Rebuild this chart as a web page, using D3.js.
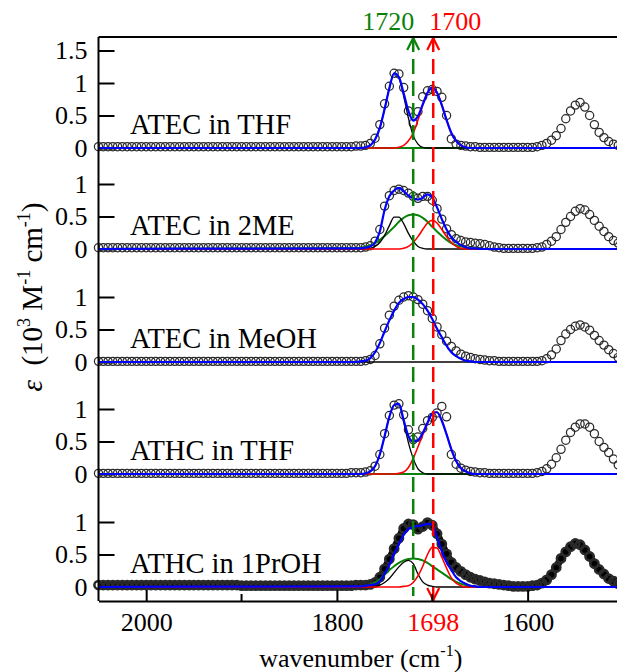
<!DOCTYPE html>
<html>
<head>
<meta charset="utf-8">
<title>IR spectra</title>
<script src="https://cdn.jsdelivr.net/npm/d3@7/dist/d3.min.js"></script>
<style>
  body { margin: 0; background: #ffffff; }
  #chart { display: block; }
  #chart text { font-family: "Liberation Serif", "DejaVu Serif", "Times New Roman", Times, serif; }
</style>
</head>
<body>
<svg id="chart" width="617" height="672"></svg>
<script>
//sample positions of the measured spectra in cm-1, every 5 cm-1 from high to low
var specWn = d3.range(2050, 1500, -5);

//measured epsilon (10^3 M-1 cm-1) for each panel, same order as specWn
var specAtecThf = [
  0.02, 0.02, 0.02, 0.02, 0.02, 0.02, 0.02, 0.02, 0.02, 0.02,
  0.02, 0.02, 0.02, 0.02, 0.02, 0.02, 0.02, 0.02, 0.02, 0.02,
  0.02, 0.02, 0.02, 0.02, 0.02, 0.02, 0.02, 0.02, 0.02, 0.02,
  0.02, 0.02, 0.02, 0.02, 0.02, 0.02, 0.02, 0.02, 0.02, 0.02,
  0.02, 0.02, 0.02, 0.02, 0.02, 0.02, 0.02, 0.02, 0.02, 0.02,
  0.02, 0.02, 0.02, 0.02, 0.03, 0.03, 0.04, 0.07, 0.15, 0.36,
  0.68, 0.95, 1.15, 1.14, 0.93, 0.57, 0.38, 0.56, 0.79, 0.88,
  0.90, 0.87, 0.78, 0.50, 0.14, 0.06, 0.04, 0.03, 0.02, 0.02,
  0.01, 0.01, 0.01, 0.01, 0.01, 0.01, 0.01, 0.01, 0.01, 0.01,
  0.01, 0.01, 0.02, 0.04, 0.07, 0.12, 0.19, 0.30, 0.45, 0.57,
  0.66, 0.70, 0.63, 0.50, 0.36, 0.24, 0.16, 0.10, 0.06, 0.04
];
var specAtec2me = [
  0.02, 0.02, 0.02, 0.02, 0.02, 0.02, 0.02, 0.02, 0.02, 0.02,
  0.02, 0.02, 0.02, 0.02, 0.02, 0.02, 0.02, 0.02, 0.02, 0.02,
  0.02, 0.02, 0.02, 0.02, 0.02, 0.02, 0.02, 0.02, 0.02, 0.02,
  0.02, 0.02, 0.02, 0.02, 0.02, 0.02, 0.02, 0.02, 0.02, 0.02,
  0.02, 0.02, 0.02, 0.02, 0.02, 0.02, 0.02, 0.02, 0.02, 0.02,
  0.02, 0.02, 0.02, 0.02, 0.02, 0.02, 0.03, 0.05, 0.12, 0.30,
  0.66, 0.82, 0.90, 0.92, 0.90, 0.86, 0.81, 0.78, 0.81, 0.81,
  0.75, 0.62, 0.46, 0.31, 0.22, 0.16, 0.13, 0.11, 0.10, 0.09,
  0.08, 0.07, 0.05, 0.03, 0.02, 0.01, 0.01, 0.01, 0.01, 0.01,
  0.01, 0.01, 0.02, 0.03, 0.07, 0.12, 0.19, 0.30, 0.41, 0.50,
  0.58, 0.62, 0.60, 0.53, 0.44, 0.35, 0.27, 0.19, 0.13, 0.09
];
var specAtecMeoh = [
  0.01, 0.01, 0.01, 0.01, 0.01, 0.01, 0.01, 0.01, 0.01, 0.01,
  0.01, 0.01, 0.01, 0.01, 0.01, 0.01, 0.01, 0.01, 0.01, 0.01,
  0.01, 0.01, 0.01, 0.01, 0.01, 0.01, 0.01, 0.01, 0.01, 0.01,
  0.01, 0.01, 0.01, 0.01, 0.01, 0.01, 0.01, 0.01, 0.01, 0.01,
  0.01, 0.01, 0.01, 0.01, 0.01, 0.01, 0.01, 0.01, 0.01, 0.01,
  0.01, 0.01, 0.01, 0.01, 0.01, 0.01, 0.02, 0.04, 0.10, 0.28,
  0.52, 0.72, 0.86, 0.95, 1.00, 1.02, 1.00, 0.96, 0.89, 0.79,
  0.67, 0.54, 0.42, 0.32, 0.24, 0.17, 0.12, 0.09, 0.07, 0.05,
  0.04, 0.03, 0.02, 0.02, 0.01, 0.01, 0.01, 0.01, 0.01, 0.01,
  0.01, 0.01, 0.01, 0.02, 0.05, 0.11, 0.20, 0.33, 0.43, 0.50,
  0.55, 0.57, 0.54, 0.49, 0.41, 0.33, 0.26, 0.19, 0.13, 0.07
];
var specAthcThf = [
  0.01, 0.01, 0.01, 0.01, 0.01, 0.01, 0.01, 0.01, 0.01, 0.01,
  0.01, 0.01, 0.01, 0.01, 0.01, 0.01, 0.01, 0.01, 0.01, 0.01,
  0.01, 0.01, 0.01, 0.01, 0.01, 0.01, 0.01, 0.01, 0.01, 0.01,
  0.01, 0.01, 0.01, 0.01, 0.01, 0.01, 0.01, 0.01, 0.01, 0.01,
  0.01, 0.01, 0.01, 0.01, 0.01, 0.01, 0.01, 0.01, 0.01, 0.01,
  0.01, 0.01, 0.01, 0.02, 0.02, 0.02, 0.03, 0.05, 0.12, 0.30,
  0.62, 0.90, 1.06, 1.08, 0.91, 0.68, 0.53, 0.57, 0.70, 0.82,
  0.87, 0.94, 1.04, 0.88, 0.30, 0.15, 0.09, 0.06, 0.04, 0.03,
  0.02, 0.02, 0.01, 0.01, 0.01, 0.01, 0.01, 0.01, 0.01, 0.01,
  0.01, 0.01, 0.02, 0.04, 0.08, 0.15, 0.25, 0.38, 0.52, 0.64,
  0.72, 0.77, 0.77, 0.72, 0.62, 0.50, 0.41, 0.33, 0.23, 0.14
];
var specAthc1proh = [
  0.03, 0.03, 0.03, 0.03, 0.03, 0.03, 0.03, 0.03, 0.03, 0.03,
  0.03, 0.03, 0.03, 0.03, 0.03, 0.03, 0.03, 0.03, 0.03, 0.03,
  0.03, 0.03, 0.03, 0.03, 0.03, 0.03, 0.03, 0.03, 0.03, 0.03,
  0.02, 0.02, 0.02, 0.02, 0.02, 0.02, 0.02, 0.02, 0.02, 0.02,
  0.02, 0.02, 0.02, 0.02, 0.02, 0.02, 0.02, 0.02, 0.02, 0.02,
  0.02, 0.02, 0.02, 0.02, 0.03, 0.03, 0.03, 0.04, 0.07, 0.15,
  0.28, 0.43, 0.59, 0.75, 0.90, 0.97, 0.96, 0.89, 0.93, 0.99,
  0.95, 0.82, 0.66, 0.51, 0.38, 0.30, 0.24, 0.19, 0.15, 0.12,
  0.10, 0.08, 0.06, 0.05, 0.04, 0.03, 0.02, 0.01, 0.01, 0.01,
  0.01, 0.02, 0.03, 0.06, 0.11, 0.19, 0.30, 0.44, 0.54, 0.62,
  0.67, 0.65, 0.57, 0.47, 0.36, 0.27, 0.20, 0.13, 0.09, 0.05
];

//positions of the fit curves: far left end, 1780 to 1630 every 5, far right end
var fitWn = [2050].concat(d3.range(1780, 1625, -5), [1505]);

//fit components per panel (same order as fitWn)
var blackAtecThf = [0,
  0, 0, 0.01, 0.04, 0.13, 0.31, 0.60, 0.92, 1.15, 1.08,
  0.80, 0.46, 0.19, 0.06, 0.01, 0, 0, 0, 0, 0,
  0, 0, 0, 0, 0, 0, 0, 0, 0, 0,
  0, 0];
var redAtecThf = [0,
  0, 0, 0, 0, 0, 0, 0, 0, 0, 0.01,
  0.04, 0.11, 0.23, 0.43, 0.66, 0.85, 0.93, 0.85, 0.66, 0.43,
  0.23, 0.11, 0.04, 0.01, 0, 0, 0, 0, 0, 0,
  0, 0];
var greenAtecThf = [0,
  0, 0, 0, 0, 0, 0, 0, 0, 0, 0,
  0, 0, 0, 0, 0, 0, 0, 0, 0, 0,
  0, 0, 0, 0, 0, 0, 0, 0, 0, 0,
  0, 0];
var blueAtecThf = [0,
  0, 0, 0.01, 0.04, 0.13, 0.31, 0.60, 0.92, 1.15, 1.09,
  0.84, 0.57, 0.42, 0.49, 0.67, 0.85, 0.93, 0.85, 0.66, 0.43,
  0.23, 0.11, 0.04, 0.01, 0, 0, 0, 0, 0, 0,
  0, 0];

var blackAtec2me = [0,
  0, 0, 0, 0.01, 0.04, 0.10, 0.21, 0.36, 0.49, 0.49,
  0.39, 0.24, 0.12, 0.04, 0.01, 0, 0, 0, 0, 0,
  0, 0, 0, 0, 0, 0, 0, 0, 0, 0,
  0, 0];
var greenAtec2me = [0,
  0.01, 0.02, 0.04, 0.06, 0.09, 0.14, 0.20, 0.27, 0.34, 0.42,
  0.48, 0.52, 0.53, 0.52, 0.48, 0.42, 0.34, 0.27, 0.20, 0.14,
  0.09, 0.06, 0.04, 0.02, 0.01, 0.01, 0, 0, 0, 0,
  0, 0];
var redAtec2me = [0,
  0, 0, 0, 0, 0, 0, 0, 0, 0, 0,
  0.01, 0.04, 0.10, 0.19, 0.30, 0.40, 0.44, 0.40, 0.30, 0.19,
  0.10, 0.04, 0.01, 0, 0, 0, 0, 0, 0, 0,
  0, 0];
var blueAtec2me = [0,
  0.01, 0.01, 0.02, 0.04, 0.10, 0.27, 0.60, 0.81, 0.90, 0.94,
  0.89, 0.82, 0.78, 0.76, 0.79, 0.84, 0.79, 0.64, 0.46, 0.30,
  0.18, 0.11, 0.06, 0.03, 0.01, 0.01, 0, 0, 0, 0,
  0, 0];

var blackAtecMeoh = [0,
  0, 0, 0, 0, 0, 0, 0, 0, 0, 0,
  0, 0, 0, 0, 0, 0, 0, 0, 0, 0,
  0, 0, 0, 0, 0, 0, 0, 0, 0, 0,
  0, 0];
var blueAtecMeoh = [0,
  0, 0.01, 0.02, 0.06, 0.15, 0.29, 0.47, 0.64, 0.79, 0.91,
  0.97, 1.00, 1.00, 0.96, 0.89, 0.79, 0.66, 0.51, 0.38, 0.25,
  0.15, 0.09, 0.05, 0.02, 0.01, 0, 0, 0, 0, 0,
  0, 0];

var blackAthcThf = [0,
  0, 0, 0.01, 0.04, 0.12, 0.30, 0.58, 0.88, 1.06, 1.07,
  0.80, 0.48, 0.24, 0.08, 0.02, 0, 0, 0, 0, 0,
  0, 0, 0, 0, 0, 0, 0, 0, 0, 0,
  0, 0];
var redAthcThf = [0,
  0, 0, 0, 0, 0, 0, 0, 0, 0, 0.01,
  0.03, 0.10, 0.24, 0.42, 0.60, 0.78, 0.93, 0.95, 0.82, 0.61,
  0.38, 0.20, 0.09, 0.04, 0.01, 0, 0, 0, 0, 0,
  0, 0];
var greenAthcThf = [0,
  0, 0, 0, 0, 0, 0, 0, 0, 0, 0,
  0, 0, 0, 0, 0, 0, 0, 0, 0, 0,
  0, 0, 0, 0, 0, 0, 0, 0, 0, 0,
  0, 0];
var blueAthcThf = [0,
  0, 0, 0.01, 0.04, 0.12, 0.30, 0.58, 0.88, 1.06, 1.08,
  0.83, 0.58, 0.50, 0.52, 0.63, 0.79, 0.93, 0.95, 0.82, 0.61,
  0.38, 0.20, 0.09, 0.04, 0.01, 0, 0, 0, 0, 0,
  0, 0];

var blackAthc1proh = [0,
  0, 0, 0, 0, 0.01, 0.03, 0.07, 0.13, 0.22, 0.31,
  0.38, 0.41, 0.36, 0.20, 0.08, 0.03, 0.01, 0, 0, 0,
  0, 0, 0, 0, 0, 0, 0, 0, 0, 0,
  0, 0];
var greenAthc1proh = [0,
  0, 0.01, 0.02, 0.04, 0.07, 0.12, 0.19, 0.26, 0.32, 0.37,
  0.41, 0.43, 0.44, 0.43, 0.41, 0.37, 0.32, 0.27, 0.22, 0.17,
  0.12, 0.08, 0.05, 0.03, 0.02, 0.01, 0, 0, 0, 0,
  0, 0];
var redAthc1proh = [0,
  0, 0, 0, 0, 0, 0, 0, 0, 0, 0,
  0.01, 0.02, 0.07, 0.17, 0.32, 0.50, 0.61, 0.60, 0.46, 0.29,
  0.14, 0.06, 0.02, 0, 0, 0, 0, 0, 0, 0,
  0, 0];
var blueAthc1proh = [0,
  0.01, 0.01, 0.02, 0.03, 0.04, 0.09, 0.20, 0.34, 0.51, 0.66,
  0.80, 0.89, 0.92, 0.94, 0.95, 0.97, 0.96, 0.76, 0.55, 0.38,
  0.26, 0.15, 0.09, 0.05, 0.02, 0.01, 0, 0, 0, 0,
  0, 0];

//panel names and y tick values
var panelNames = ["ATEC in THF", "ATEC in 2ME", "ATEC in MeOH", "ATHC in THF", "ATHC in 1PrOH"];
var yTicksTop = [0, 0.5, 1, 1.5];
var yTicksRest = [0, 0.5, 1];

//x axis ticks
var xMajorTicks = [2000, 1800, 1600];
var xMinorTicks = [1900, 1700];

//marker lines for the two carbonyl bands
var markerGreen = 1720;
var markerRed = 1699;
var markerGreenLabel = "1720";
var markerRedTopLabel = "1700";
var markerRedBottomLabel = "1698";

//table the drawing loop walks through
var panels = [
  {name: panelNames[0], spec: specAtecThf, green: greenAtecThf, black: blackAtecThf, red: redAtecThf, blue: blueAtecThf, ticks: yTicksTop},
  {name: panelNames[1], spec: specAtec2me, green: greenAtec2me, black: blackAtec2me, red: redAtec2me, blue: blueAtec2me, ticks: yTicksRest},
  {name: panelNames[2], spec: specAtecMeoh, green: null, black: blackAtecMeoh, red: null, blue: blueAtecMeoh, ticks: yTicksRest},
  {name: panelNames[3], spec: specAthcThf, green: greenAthcThf, black: blackAthcThf, red: redAthcThf, blue: blueAthcThf, ticks: yTicksRest},
  {name: panelNames[4], spec: specAthc1proh, green: greenAthc1proh, black: blackAthc1proh, red: redAthc1proh, blue: blueAthc1proh, ticks: yTicksRest, heavy: true}
];

//layout
var plotLeft = 98.5;
var plotTop = 37;
var plotBottom = 601;
var plotRight = 623;
var panelZero = [148, 249, 362, 474, 587];
var unitPx = 65;
var fontSize = 26;
var serif = "'Liberation Serif', 'DejaVu Serif', 'Times New Roman', Times, serif";

var colors = {green: "#0a820a", black: "#000000", red: "#ff0000", blue: "#0000ff"};
var widths = {green: 2, black: 1.3, red: 1.6, blue: 2.2};

var svg = d3.select("#chart").attr("font-family", serif);

var x = d3.scaleLinear()
  .domain([2050, 1500])
  .range([plotLeft, plotRight]);

//draw each stacked panel
panels.forEach(function (p, i) {
  var y = d3.scaleLinear()
    .domain([0, 1])
    .range([panelZero[i], panelZero[i] - unitPx]);

  var g = svg.append("g").attr("class", "panel");

  //y ticks pointing into the plot
  var yAxis = g.append("g")
    .attr("transform", "translate(" + plotLeft + ",0)")
    .call(d3.axisLeft(y)
      .tickValues(p.ticks)
      .tickSizeInner(-16)
      .tickSizeOuter(0)
      .tickPadding(11)
      .tickFormat(function (d) { return String(d); }));
  yAxis.select(".domain").remove();
  yAxis.attr("font-family", serif).attr("font-size", fontSize);
  yAxis.selectAll(".tick line").attr("stroke", "#000").attr("stroke-width", 2);
  yAxis.selectAll(".tick text").attr("fill", "#000");

  //panel label
  g.append("text")
    .attr("x", 130)
    .attr("y", panelZero[i] - 14)
    .attr("font-size", 28.5)
    .text(p.name);

  var points = specWn.map(function (w, k) { return [w, p.spec[k]]; });

  //the last panel was measured much more densely, so it shows as a heavy band
  if (p.heavy) {
    g.append("path")
      .datum(points)
      .attr("fill", "none")
      .attr("stroke", "#000")
      .attr("stroke-width", 7)
      .attr("stroke-linejoin", "round")
      .attr("d", d3.line()
        .x(function (d) { return x(d[0]); })
        .y(function (d) { return y(d[1]); })
        .curve(d3.curveMonotoneX));
  }

  //measured points as open circles
  g.selectAll("circle.pt")
    .data(points)
    .join("circle")
    .attr("class", "pt")
    .attr("cx", function (d) { return x(d[0]); })
    .attr("cy", function (d) { return y(d[1]); })
    .attr("r", 4.1)
    .attr("fill", "none")
    .attr("stroke", "#2a2a2a")
    .attr("stroke-width", p.heavy ? 2.6 : 1.25);

  //fit lines, blue total on top
  var fitLine = d3.line()
    .x(function (d) { return x(d[0]); })
    .y(function (d) { return y(d[1]); })
    .curve(d3.curveMonotoneX);

  ["green", "black", "red", "blue"].forEach(function (key) {
    if (!p[key]) {
      return;
    }
    var fitPoints = fitWn.map(function (w, k) { return [w, p[key][k]]; });
    g.append("path")
      .datum(fitPoints)
      .attr("fill", "none")
      .attr("stroke", colors[key])
      .attr("stroke-width", widths[key])
      .attr("d", fitLine);
  });
});

//dashed marker lines with arrow heads
function markerLine(wn, color, yEnd) {
  svg.append("line")
    .attr("x1", x(wn)).attr("x2", x(wn))
    .attr("y1", plotTop).attr("y2", yEnd)
    .attr("stroke", color)
    .attr("stroke-width", 2.5)
    .attr("stroke-dasharray", "15,7");
}
function chevron(wn, color, tipY, dir) {
  var cx = x(wn);
  svg.append("path")
    .attr("d", "M" + (cx - 6) + "," + (tipY + dir * 12) + "L" + cx + "," + tipY + "L" + (cx + 6) + "," + (tipY + dir * 12))
    .attr("fill", "none")
    .attr("stroke", color)
    .attr("stroke-width", 2.2);
}

markerLine(markerGreen, colors.green, 596);
markerLine(markerRed, colors.red, plotBottom);
chevron(markerGreen, colors.green, plotTop + 1, 1);
chevron(markerRed, colors.red, plotTop + 1, 1);
chevron(markerRed, colors.red, plotBottom - 1, -1);

svg.append("text")
  .attr("x", x(markerGreen) + 1)
  .attr("y", 30)
  .attr("text-anchor", "end")
  .attr("font-size", fontSize)
  .attr("fill", colors.green)
  .text(markerGreenLabel);

svg.append("text")
  .attr("x", x(markerRed) - 4)
  .attr("y", 30)
  .attr("text-anchor", "start")
  .attr("font-size", fontSize)
  .attr("fill", colors.red)
  .text(markerRedTopLabel);

//frame: top line, left axis, bottom axis
svg.append("line")
  .attr("x1", plotLeft).attr("x2", plotRight)
  .attr("y1", plotTop).attr("y2", plotTop)
  .attr("stroke", "#000").attr("stroke-width", 2);
svg.append("line")
  .attr("x1", plotLeft).attr("x2", plotLeft)
  .attr("y1", plotTop).attr("y2", plotBottom)
  .attr("stroke", "#000").attr("stroke-width", 2);

var xAxis = svg.append("g")
  .attr("transform", "translate(0," + plotBottom + ")")
  .call(d3.axisBottom(x)
    .tickValues(xMajorTicks)
    .tickSizeInner(-11)
    .tickSizeOuter(0)
    .tickPadding(12)
    .tickFormat(function (d) { return String(d); }));
xAxis.attr("font-family", serif).attr("font-size", fontSize);
xAxis.select(".domain").attr("stroke", "#000").attr("stroke-width", 2);
xAxis.selectAll(".tick line").attr("stroke", "#000").attr("stroke-width", 2);
xAxis.selectAll(".tick text").attr("fill", "#000");

//minor ticks
svg.selectAll("line.minor")
  .data(xMinorTicks)
  .join("line")
  .attr("class", "minor")
  .attr("x1", function (d) { return x(d); })
  .attr("x2", function (d) { return x(d); })
  .attr("y1", plotBottom)
  .attr("y2", plotBottom - 7)
  .attr("stroke", "#000")
  .attr("stroke-width", 2);

//red label under the axis
svg.append("text")
  .attr("x", x(markerRed))
  .attr("y", plotBottom + 30)
  .attr("text-anchor", "middle")
  .attr("font-size", fontSize)
  .attr("fill", colors.red)
  .text(markerRedBottomLabel);

//x axis title
var xTitle = svg.append("text")
  .attr("x", (plotLeft + plotRight) / 2)
  .attr("y", 667)
  .attr("text-anchor", "middle")
  .attr("font-size", fontSize);
xTitle.append("tspan").text("wavenumber (cm");
xTitle.append("tspan").attr("font-size", 16).attr("dy", -11).text("-1");
xTitle.append("tspan").attr("dy", 11).text(")");

//y axis title, rotated
var yTitle = svg.append("text")
  .attr("transform", "translate(42,297) rotate(-90)")
  .attr("text-anchor", "middle")
  .attr("font-size", 29);
yTitle.append("tspan").attr("font-style", "italic").text("\u03b5");
yTitle.append("tspan").text("\u00a0 (10");
yTitle.append("tspan").attr("font-size", 18).attr("dy", -12).text("3");
yTitle.append("tspan").attr("dy", 12).text("\u00a0M");
yTitle.append("tspan").attr("font-size", 18).attr("dy", -12).text("-1");
yTitle.append("tspan").attr("dy", 12).text("\u00a0cm");
yTitle.append("tspan").attr("font-size", 18).attr("dy", -12).text("-1");
yTitle.append("tspan").attr("dy", 12).text(")");
</script>
</body>
</html>
